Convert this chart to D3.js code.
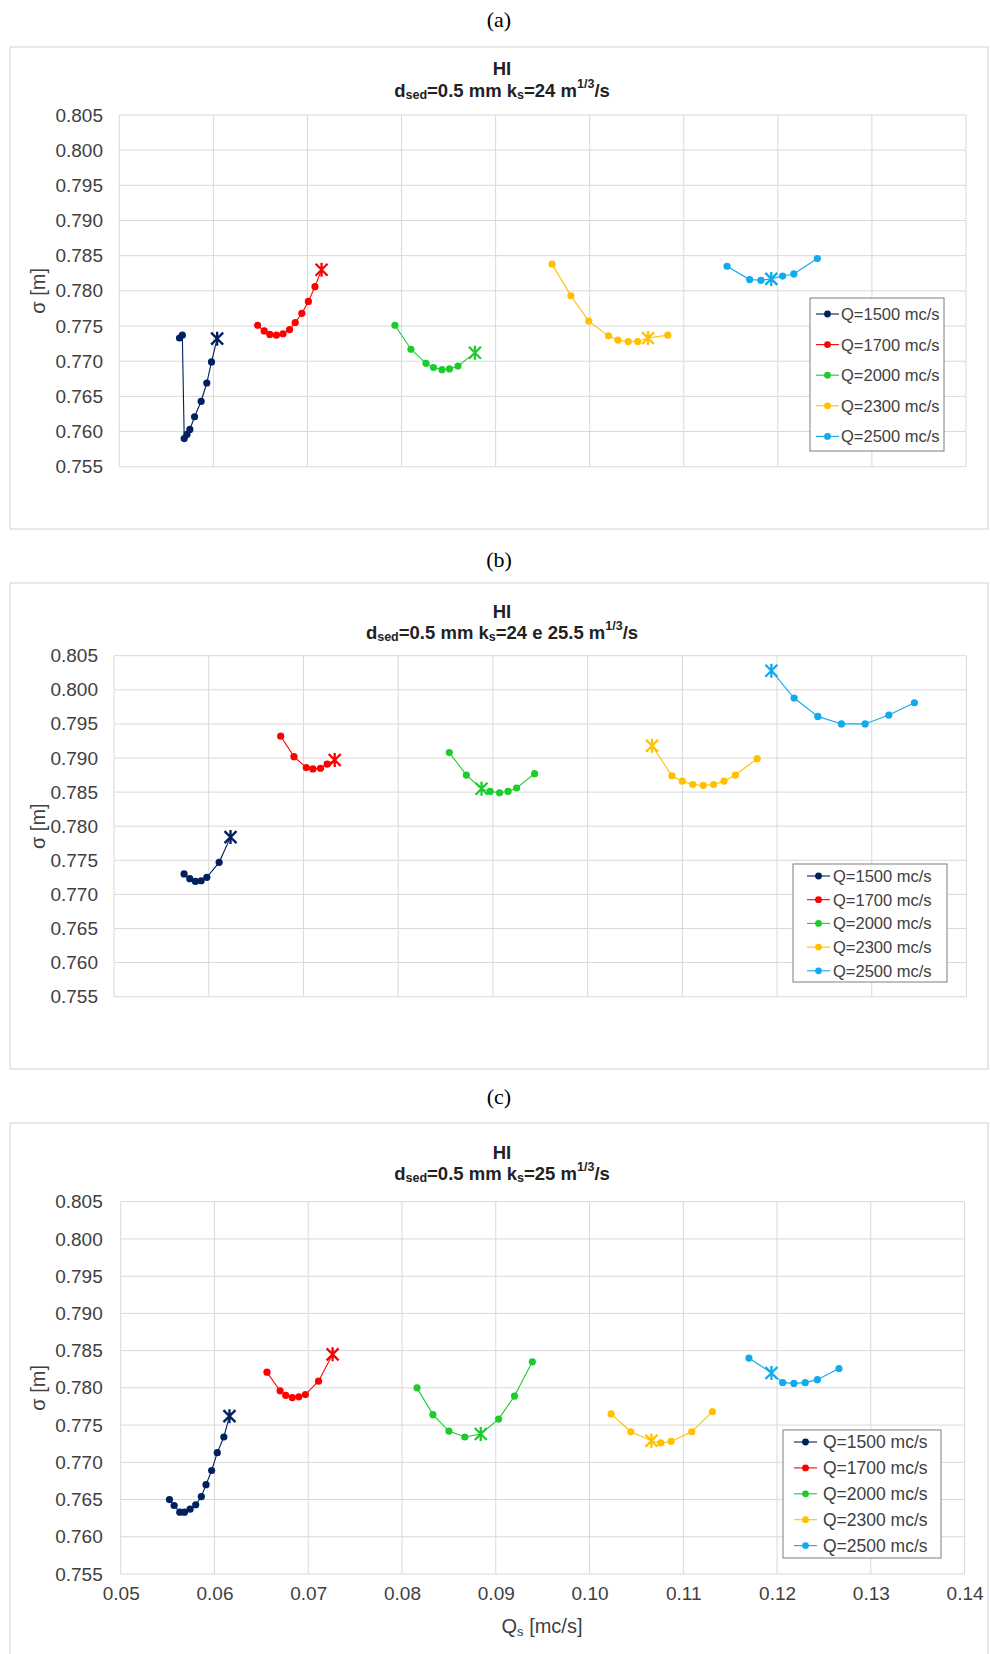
<!DOCTYPE html>
<html>
<head>
<meta charset="utf-8">
<script src="https://cdn.jsdelivr.net/npm/d3@7"></script>
<style>
  body { margin: 0; background: #fff; }
  svg text { font-family: "Liberation Sans", Arial, sans-serif; }
</style>
</head>
<body>
<script>
// series names + colours
const qLabels = ["Q=1500 mc/s", "Q=1700 mc/s", "Q=2000 mc/s", "Q=2300 mc/s", "Q=2500 mc/s"];
const colors = ["#002060", "#ff0000", "#1ccc2c", "#ffc000", "#12aaef"];

// axis ticks
const yTicks = [0.755, 0.760, 0.765, 0.770, 0.775, 0.780, 0.785, 0.790, 0.795, 0.800, 0.805];
const xTicks = [0.05, 0.06, 0.07, 0.08, 0.09, 0.10, 0.11, 0.12, 0.13, 0.14];

// (a) ks = 24
const aX = [
  [0.0564, 0.0567, 0.0569, 0.0572, 0.0575, 0.0580, 0.0587, 0.0593, 0.0598, 0.0604],
  [0.0647, 0.0654, 0.0660, 0.0667, 0.0674, 0.0681, 0.0687, 0.0694, 0.0701, 0.0708, 0.0715],
  [0.0793, 0.0810, 0.0826, 0.0834, 0.0843, 0.0851, 0.0860, 0.0878],
  [0.0960, 0.0980, 0.0999, 0.1020, 0.1030, 0.1041, 0.1051, 0.1062, 0.1083],
  [0.1146, 0.1170, 0.1182, 0.1193, 0.1205, 0.1217, 0.1242]
];
const aY = [
  [0.7733, 0.7737, 0.7590, 0.7596, 0.7603, 0.7621, 0.7643, 0.7669, 0.7699, 0.7732],
  [0.7751, 0.7743, 0.7738, 0.7737, 0.7739, 0.7745, 0.7755, 0.7768, 0.7785, 0.7806, 0.7830],
  [0.7751, 0.7717, 0.7697, 0.7691, 0.7688, 0.7689, 0.7693, 0.7712],
  [0.7838, 0.7793, 0.7757, 0.7736, 0.7730, 0.7728, 0.7728, 0.7733, 0.7737],
  [0.7835, 0.7816, 0.7815, 0.7817, 0.7821, 0.7824, 0.7846]
];
const aStar = [9, 10, 7, 7, 3]; // index of the asterisk point in each series

// (b) ks = 24 e 25.5
const bX = [
  [0.0574, 0.0580, 0.0586, 0.0592, 0.0598, 0.0611, 0.0623],
  [0.0676, 0.0690, 0.0703, 0.0710, 0.0718, 0.0725, 0.0733],
  [0.0854, 0.0872, 0.0888, 0.0897, 0.0907, 0.0916, 0.0925, 0.0944],
  [0.1068, 0.1089, 0.1100, 0.1111, 0.1122, 0.1133, 0.1144, 0.1156, 0.1179],
  [0.1194, 0.1218, 0.1243, 0.1268, 0.1293, 0.1318, 0.1345]
];
const bY = [
  [0.7730, 0.7723, 0.7719, 0.7720, 0.7725, 0.7747, 0.7784],
  [0.7932, 0.7902, 0.7886, 0.7884, 0.7885, 0.7891, 0.7897],
  [0.7908, 0.7875, 0.7855, 0.7851, 0.7849, 0.7851, 0.7856, 0.7877],
  [0.7918, 0.7874, 0.7866, 0.7861, 0.7860, 0.7861, 0.7866, 0.7875, 0.7899],
  [0.8028, 0.7988, 0.7961, 0.7950, 0.7950, 0.7963, 0.7981]
];
const bStar = [6, 6, 2, 0, 0];

// (c) ks = 25
const cX = [
  [0.0552, 0.0557, 0.0563, 0.0568, 0.0574, 0.0580, 0.0586, 0.0591, 0.0597, 0.0603, 0.0610, 0.0616],
  [0.0656, 0.0670, 0.0676, 0.0683, 0.0690, 0.0697, 0.0711, 0.0726],
  [0.0816, 0.0833, 0.0850, 0.0867, 0.0884, 0.0903, 0.0920, 0.0939],
  [0.1023, 0.1044, 0.1066, 0.1076, 0.1087, 0.1109, 0.1131],
  [0.1170, 0.1194, 0.1206, 0.1218, 0.1230, 0.1243, 0.1266]
];
const cY = [
  [0.7650, 0.7642, 0.7633, 0.7633, 0.7637, 0.7643, 0.7654, 0.7670, 0.7689, 0.7713, 0.7734, 0.7762],
  [0.7821, 0.7796, 0.7790, 0.7787, 0.7788, 0.7791, 0.7809, 0.7845],
  [0.7800, 0.7764, 0.7742, 0.7734, 0.7738, 0.7758, 0.7789, 0.7835],
  [0.7765, 0.7741, 0.7729, 0.7726, 0.7728, 0.7741, 0.7768],
  [0.7840, 0.7820, 0.7807, 0.7806, 0.7807, 0.7811, 0.7826]
];
const cStar = [11, 7, 4, 2, 1];

const W = 990, H = 1654;
const svg = d3.select("body").append("svg")
  .attr("width", W)
  .attr("height", H);

// layout of the three stacked charts
const panels = [
  { tag: "(a)", tagY: 19, ks: "24", xs: aX, ys: aY, star: aStar,
    box: [10, 47, 978, 482], plot: [119.3, 115, 966, 466.7], tickX: 103, t1: 68, t2: 90,
    leg: { x: 810, y: 298, w: 134, h: 153, row: 30.6, first: 16, lx: 6, tx: 31, fs: 16.5 }, xAxis: false },
  { tag: "(b)", tagY: 559, ks: "24 e 25.5", xs: bX, ys: bY, star: bStar,
    box: [10, 583, 978, 486], plot: [114, 655.7, 966.5, 996.7], tickX: 98, t1: 611, t2: 632,
    leg: { x: 793, y: 864, w: 154, h: 118, row: 23.7, first: 12, lx: 14, tx: 40, fs: 16.5 }, xAxis: false },
  { tag: "(c)", tagY: 1096, ks: "25", xs: cX, ys: cY, star: cStar,
    box: [10, 1123, 978, 560], plot: [120.7, 1201.7, 964.6, 1574], tickX: 102.7, t1: 1152, t2: 1173,
    leg: { x: 783, y: 1430, w: 158, h: 128, row: 25.9, first: 12, lx: 11, tx: 40, fs: 17.5 }, xAxis: true }
];

panels.forEach(p => {
  const [pl, pt, pr, pb] = p.plot;
  const x = d3.scaleLinear().domain([0.05, 0.14]).range([pl, pr]);
  const y = d3.scaleLinear().domain([0.755, 0.805]).range([pb, pt]);
  const g = svg.append("g");

  // panel letter
  svg.append("text")
    .attr("x", 499).attr("y", p.tagY)
    .attr("text-anchor", "middle").attr("dominant-baseline", "central")
    .style("font-family", "'Liberation Serif', 'DejaVu Serif', serif")
    .style("font-size", "22px")
    .text(p.tag);

  // outer chart frame
  g.append("rect")
    .attr("x", p.box[0]).attr("y", p.box[1])
    .attr("width", p.box[2]).attr("height", p.box[3])
    .attr("fill", "#fff").attr("stroke", "#d9d9d9").attr("stroke-width", 1.2);

  // gridlines
  g.append("g").selectAll("line").data(yTicks).join("line")
    .attr("x1", pl).attr("x2", pr)
    .attr("y1", d => y(d)).attr("y2", d => y(d))
    .attr("stroke", "#d9d9d9").attr("stroke-width", 1);
  g.append("g").selectAll("line").data(xTicks).join("line")
    .attr("x1", d => x(d)).attr("x2", d => x(d))
    .attr("y1", pt).attr("y2", pb)
    .attr("stroke", "#d9d9d9").attr("stroke-width", 1);

  // y tick labels via d3 axis, domain & ticks hidden
  const yAx = g.append("g")
    .attr("transform", `translate(${p.tickX + 8},0)`)
    .call(d3.axisLeft(y).tickValues(yTicks).tickFormat(d3.format(".3f")).tickSize(0).tickPadding(8));
  yAx.select(".domain").remove();
  yAx.selectAll("text").style("font-size", "19px").attr("fill", "#404040")
    .style("font-family", "'Liberation Sans', Arial, sans-serif");

  if (p.xAxis) {
    const xAx = g.append("g")
      .attr("transform", `translate(0,${pb})`)
      .call(d3.axisBottom(x).tickValues(xTicks).tickFormat(d3.format(".2f")).tickSize(0).tickPadding(13));
    xAx.select(".domain").remove();
    xAx.selectAll("text").style("font-size", "19px").attr("fill", "#404040")
      .style("font-family", "'Liberation Sans', Arial, sans-serif");

    const xt = g.append("text")
      .attr("x", 542).attr("y", 1626)
      .attr("text-anchor", "middle").attr("dominant-baseline", "central")
      .style("font-size", "20px").attr("fill", "#404040");
    xt.append("tspan").text("Q");
    xt.append("tspan").attr("dy", 5).style("font-size", "13px").text("s");
    xt.append("tspan").attr("dy", -5).text(" [mc/s]");
  }

  // y axis title
  g.append("text")
    .attr("transform", `translate(38,${(pt + pb) / 2}) rotate(-90)`)
    .attr("text-anchor", "middle").attr("dominant-baseline", "central")
    .style("font-size", "20px").attr("fill", "#404040")
    .text("σ [m]");

  // titles
  g.append("text")
    .attr("x", 502).attr("y", p.t1)
    .attr("text-anchor", "middle").attr("dominant-baseline", "central")
    .style("font-size", "18.5px").style("font-weight", "bold").attr("fill", "#222")
    .text("HI");
  const st = g.append("text")
    .attr("x", 502).attr("y", p.t2)
    .attr("text-anchor", "middle").attr("dominant-baseline", "central")
    .style("font-size", "18.5px").style("font-weight", "bold").attr("fill", "#222");
  st.append("tspan").text("d");
  st.append("tspan").attr("dy", 5).style("font-size", "12.5px").text("sed");
  st.append("tspan").attr("dy", -5).text("=0.5 mm k");
  st.append("tspan").attr("dy", 5).style("font-size", "12.5px").text("s");
  st.append("tspan").attr("dy", -5).text("=" + p.ks + " m");
  st.append("tspan").attr("dy", -6).style("font-size", "12.5px").text("1/3");
  st.append("tspan").attr("dy", 6).text("/s");

  // series
  const line = d3.line().x(d => x(d[0])).y(d => y(d[1]));
  p.xs.forEach((sx, i) => {
    const pts = sx.map((v, j) => [v, p.ys[i][j]]);
    const sg = g.append("g");
    sg.append("path")
      .attr("d", line(pts))
      .attr("fill", "none").attr("stroke", colors[i]).attr("stroke-width", 1.1);
    sg.selectAll("circle").data(pts.filter((d, j) => j !== p.star[i])).join("circle")
      .attr("cx", d => x(d[0])).attr("cy", d => y(d[1]))
      .attr("r", 3.6).attr("fill", colors[i]);
    const s = pts[p.star[i]];
    const cx = x(s[0]), cy = y(s[1]), r = 6;
    sg.append("path")
      .attr("d", `M${cx - r},${cy - r}L${cx + r},${cy + r}M${cx - r},${cy + r}L${cx + r},${cy - r}M${cx},${cy - r - 1}L${cx},${cy + r + 1}`)
      .attr("stroke", colors[i]).attr("stroke-width", 2.3).attr("fill", "none");
  });

  // legend
  const L = p.leg;
  const lg = g.append("g").attr("transform", `translate(${L.x},${L.y})`);
  lg.append("rect").attr("width", L.w).attr("height", L.h)
    .attr("fill", "#fff").attr("stroke", "#7f7f7f").attr("stroke-width", 1);
  qLabels.forEach((lab, i) => {
    const ry = L.first + i * L.row;
    lg.append("line").attr("x1", L.lx).attr("x2", L.lx + 23).attr("y1", ry).attr("y2", ry)
      .attr("stroke", colors[i]).attr("stroke-width", 1.1);
    lg.append("circle").attr("cx", L.lx + 11.5).attr("cy", ry).attr("r", 3.4).attr("fill", colors[i]);
    lg.append("text").attr("x", L.tx).attr("y", ry)
      .attr("dominant-baseline", "central")
      .style("font-size", L.fs + "px").attr("fill", "#404040")
      .text(lab);
  });
});
</script>
</body>
</html>
